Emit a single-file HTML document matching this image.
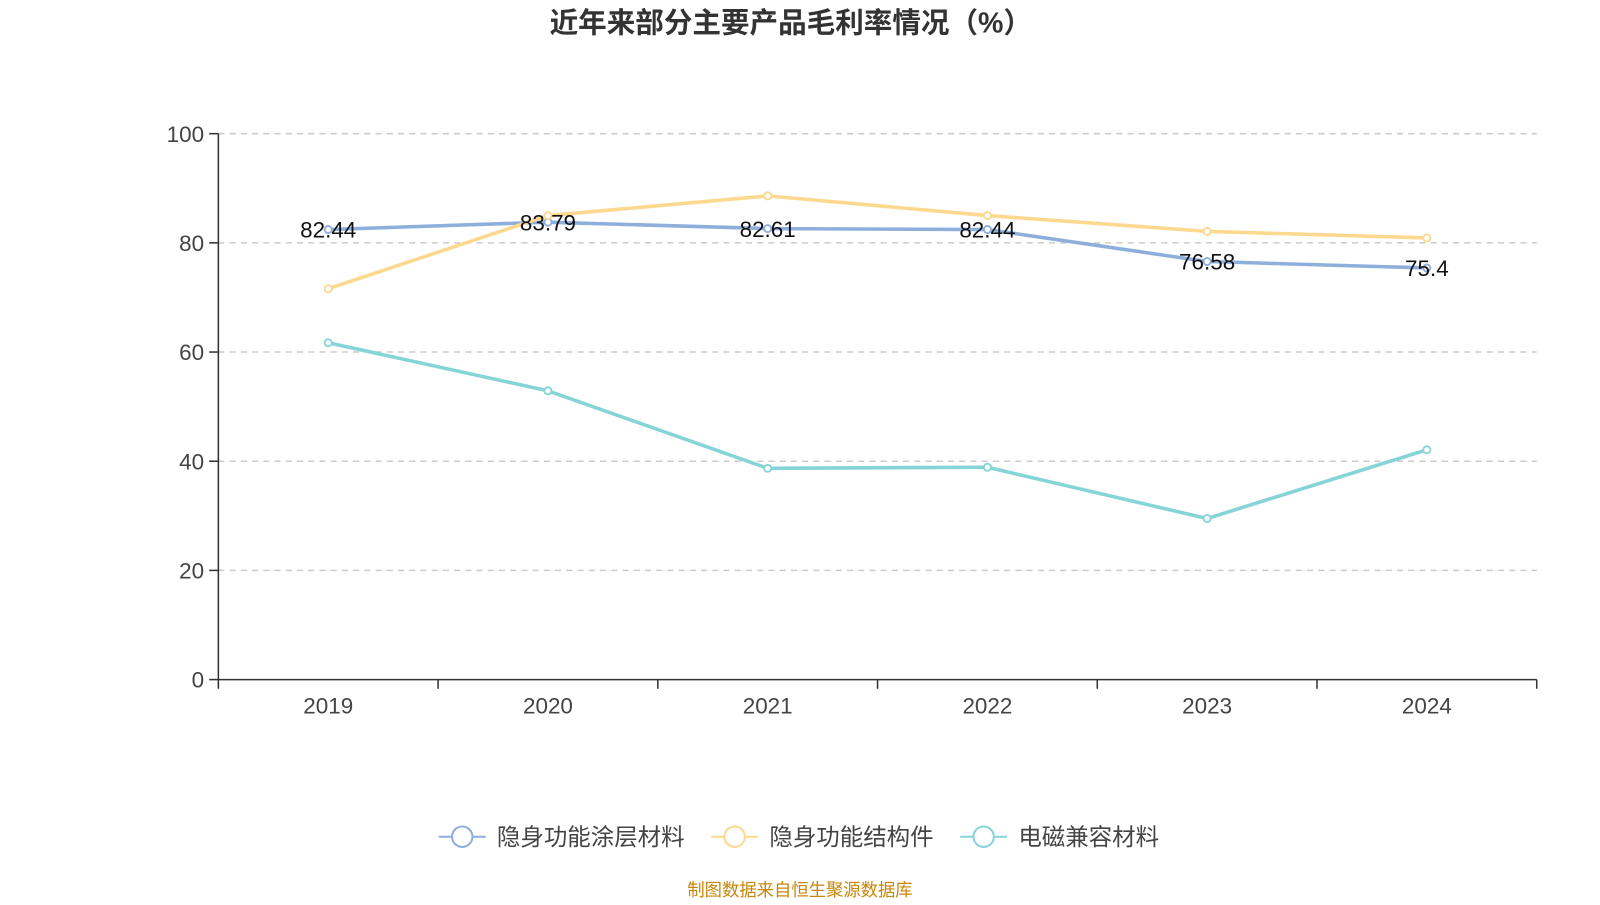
<!DOCTYPE html>
<html><head><meta charset="utf-8">
<style>
body{margin:0;background:#fff;font-family:"Liberation Sans","Noto Sans CJK SC",sans-serif;}
svg text{font-family:"Liberation Sans","Noto Sans CJK SC",sans-serif;}
</style></head>
<body>
<svg id="chart" width="1600" height="900">
<g transform="scale(1.0204)">
<text x="775" y="32" text-anchor="middle" font-size="28" font-weight="bold" fill="#333">近年来部分主要产品毛利率情况（%）</text>
<g id="grid"></g><g id="axes"></g><g id="series"></g><g id="labels"></g>
<g id="legend"></g>
<text x="784" y="878" text-anchor="middle" font-size="17" fill="#c8860a">制图数据来自恒生聚源数据库</text>
</g>
</svg>
<script>
const categories=["2019","2020","2021","2022","2023","2024"];
const coating=[82.44,83.79,82.61,82.44,76.58,75.4];
const structural=[71.6,85.0,88.6,85.0,82.1,80.9];
const emc=[61.7,52.9,38.7,38.9,29.5,42.1];
const yTicks=[0,20,40,60,80,100];
const seriesNames=["隐身功能涂层材料","隐身功能结构件","电磁兼容材料"];
const colors=["#8eaedc","#fdd88f","#85d4d8"];
const NS="http://www.w3.org/2000/svg";
const L=214,R=1506,T=131,B=666;
const band=(R-L)/categories.length;
const x=i=>L+band*(i+0.5);
const y=v=>B-(v/100)*(B-T);
function mk(tag,attrs,parent){const e=document.createElementNS(NS,tag);for(const k in attrs)e.setAttribute(k,attrs[k]);parent.appendChild(e);return e;}
const grid=document.getElementById('grid'),axes=document.getElementById('axes');
yTicks.forEach(t=>{
 if(t>0){const g=mk('line',{x1:L,x2:R,y1:y(t),y2:y(t),stroke:'#ccc','stroke-dasharray':'6,5','stroke-width':1.5},grid);
 
 }
 const tl=mk('line',{x1:L-9,x2:L,y1:y(t),y2:y(t),stroke:'#333','stroke-width':1.5},axes);
 
 
 const tx=mk('text',{x:L-14,y:y(t)+8,'text-anchor':'end','font-size':22,fill:'#444'},axes);tx.textContent=t;
 
 
});
const ya=mk('line',{x1:L,x2:L,y1:T,y2:B,stroke:'#333','stroke-width':1.5},axes);


const xa=mk('line',{x1:L,x2:R,y1:B,y2:B,stroke:'#333','stroke-width':1.5},axes);


for(let i=0;i<=categories.length;i++){const tk=mk('line',{x1:L+band*i,x2:L+band*i,y1:B,y2:B+9,stroke:'#333','stroke-width':1.5},axes);
 
 }
categories.forEach((c,i)=>{const t=mk('text',{x:x(i),y:B+33,'text-anchor':'middle','font-size':22,fill:'#444'},axes);t.textContent=c;
 
 });
const sg=document.getElementById('series');
[coating,structural,emc].forEach((d,s)=>{
 const p=mk('polyline',{points:d.map((v,i)=>x(i)+','+y(v)).join(' '),fill:'none',stroke:colors[s],'stroke-width':3.5},sg);
 
 
 d.forEach((v,i)=>{const c=mk('circle',{cx:x(i),cy:y(v),r:3.5,fill:'#fff',stroke:colors[s],'stroke-width':1.8},sg);
  
  });
});
const lg=document.getElementById('labels');
coating.forEach((v,i)=>{const t=mk('text',{x:x(i),y:y(v)+8,'text-anchor':'middle','font-size':22,fill:'#111'},lg);t.textContent=v;
 
 });
const leg=document.getElementById('legend');
const lx=[430,697,941];
seriesNames.forEach((n,s)=>{
 const g=mk('g',{},leg);
 
 
 mk('line',{x1:lx[s],x2:lx[s]+46,y1:820,y2:820,stroke:colors[s],'stroke-width':2},g);
 mk('circle',{cx:lx[s]+23,cy:820,r:10,fill:'#fff',stroke:colors[s],'stroke-width':2},g);
 const t=mk('text',{x:lx[s]+57,y:828,'font-size':23,fill:'#444'},g);t.textContent=n;
});
</script>
</body></html>
